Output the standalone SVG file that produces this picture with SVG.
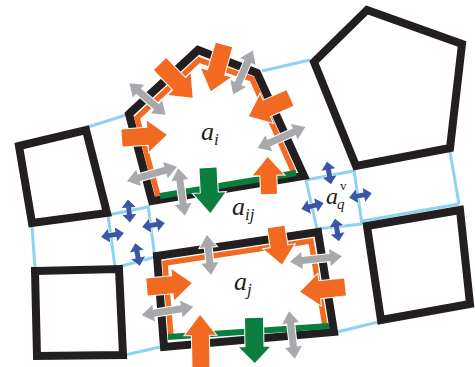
<svg xmlns="http://www.w3.org/2000/svg" width="475" height="367" viewBox="0 0 475 367">
<style>
.lb{stroke:#8dd3f0;stroke-width:3;fill:none}
.cell{stroke:#231f20;stroke-width:8;fill:none;stroke-linejoin:miter}
.ol{stroke:#f26a21;stroke-width:5.5;fill:none;stroke-linejoin:miter}
.gl{stroke:#0b7d3e;stroke-width:6;fill:none}
.oa{fill:#f26a21;stroke:#fff;stroke-width:2;paint-order:stroke}
.ga{fill:#0b7d3e;stroke:#fff;stroke-width:2;paint-order:stroke}
.gr{fill:#a7a9ac;stroke:#fff;stroke-width:2;paint-order:stroke}
.bl{fill:#3a56a5;stroke:#fff;stroke-width:1;paint-order:stroke}
.lbl{font-family:"Liberation Serif","Times New Roman",serif;font-style:italic;fill:#231f20}
</style>
<defs>
<path id="ar45" d="M0,-8.5H26V-15.5L45,0L26,15.5V8.5H0Z"/>
<path id="gr48" d="M-24,0L-12,-8.5V-3.5H12V-8.5L24,0L12,8.5V3.5H-12V8.5Z"/>
<path id="gr52" d="M-26,0L-14,-8.5V-3.5H14V-8.5L26,0L14,8.5V3.5H-14V8.5Z"/>
<path id="gr40" d="M-20,0L-8,-8.5V-3.5H8V-8.5L20,0L8,8.5V3.5H-8V8.5Z"/>
<path id="bl23" d="M-11.5,0L-3.5,-7V-2.5H3.5V-7L11.5,0L3.5,7V2.5H-3.5V7Z"/>
</defs>
<rect width="475" height="367" fill="#fff"/>
<g id="connectors">
<path class="lb" d="M88,127L126,115"/>
<path class="lb" d="M262,71L310,60"/>
<path class="lb" d="M306,180L353,171"/>
<path class="lb" d="M306,180L317,229"/>
<path class="lb" d="M317,229L362,224"/>
<path class="lb" d="M354,170L362,224"/>
<path class="lb" d="M450,152L459,204"/>
<path class="lb" d="M362,221L459,204"/>
<path class="lb" d="M337,332L378,322"/>
<path class="lb" d="M108,215L148,207"/>
<path class="lb" d="M148,205L155,258"/>
<path class="lb" d="M108,215L115,267"/>
<path class="lb" d="M118,267L155,257"/>
<path class="lb" d="M32,226L35,268"/>
<path class="lb" d="M125,355L160,347"/>
</g>
<g id="sq-tl"><polygon class="cell" points="19,146 86,130 107,213 32,223"/></g>
<g id="sq-bl"><polygon class="cell" points="35,271 119,269 123,355 37,356"/></g>
<g id="pent-tr"><polygon class="cell" points="367,10 462,44 450,148 356,166 314,62"/></g>
<g id="sq-br"><polygon class="cell" points="367,226 460,210 470,304 381,320"/></g>
<g id="cell-ai">
<polygon class="cell" points="129,114 198,50 257,73 304,176 152,201"/>
<path class="ol" d="M158,196L137,118L199,60L252,79L294,173"/>
<path class="gl" d="M160,196L296,173"/>
<path class="oa" transform="translate(160,64) rotate(46)" d="M0,-8.5H28V-15.5L47,0L28,15.5V8.5H0Z"/>
<path class="oa" transform="translate(224,45) rotate(106)" d="M0,-8.5H29V-15.5L48,0L29,15.5V8.5H0Z"/>
<use href="#ar45" class="oa" transform="translate(290,98) rotate(156)"/>
<use href="#ar45" class="oa" transform="translate(122,138) rotate(-4)"/>
<path class="oa" transform="translate(269,194) rotate(-92)" d="M0,-8H19V-15.5L37,0L19,15.5V8H0Z"/>
<path class="ga" transform="translate(208,168) rotate(87)" d="M0,-8.5H25V-16L45,0L25,16V8.5H0Z"/>
<use href="#gr48" class="gr" transform="translate(147.5,99) rotate(41)"/>
<use href="#gr48" class="gr" transform="translate(243,72.5) rotate(114)"/>
<use href="#gr52" class="gr" transform="translate(281.5,137.5) rotate(156)"/>
<use href="#gr52" class="gr" transform="translate(152,174) rotate(-16)"/>
<use href="#gr48" class="gr" transform="translate(181.5,192) rotate(82)"/>
<text class="lbl" x="201" y="140" font-size="26">a<tspan font-size="17" dy="5">i</tspan></text>
</g>
<g id="cell-aj">
<polygon class="cell" points="157,256 318,232 334,332 164,347"/>
<path class="ol" d="M171,337L165,263L311,241L325,326"/>
<path class="gl" d="M168,337L329,326"/>
<path class="oa" transform="translate(276,227) rotate(81)" d="M0,-8.5H20V-15.5L38,0L20,15.5V8.5H0Z"/>
<use href="#ar45" class="oa" transform="translate(345,287) rotate(174)"/>
<use href="#ar45" class="oa" transform="translate(147,287) rotate(-5)"/>
<path class="oa" transform="translate(201,369) rotate(-91)" d="M0,-8.5H34V-15.5L54,0L34,15.5V8.5H0Z"/>
<path class="ga" transform="translate(254,318) rotate(89)" d="M0,-9H29V-15.5L45,0L29,15.5V9H0Z"/>
<use href="#gr40" class="gr" transform="translate(209,255) rotate(84)"/>
<use href="#gr52" class="gr" transform="translate(316,259) rotate(174)"/>
<use href="#gr52" class="gr" transform="translate(167.5,311) rotate(-9)"/>
<use href="#gr48" class="gr" transform="translate(292,335) rotate(83)"/>
<text class="lbl" x="234" y="290" font-size="26">a<tspan font-size="17" dy="5">j</tspan></text>
</g>
<g id="cell-aij">
<text class="lbl" x="232" y="215" font-size="26">a<tspan font-size="17" dy="5">ij</tspan></text>
</g>
<g id="vertex-left">
<use href="#bl23" class="bl" transform="translate(129,211) rotate(85)"/>
<use href="#bl23" class="bl" transform="translate(112.5,235) rotate(-10)"/>
<use href="#bl23" class="bl" transform="translate(153.5,225) rotate(-10)"/>
<use href="#bl23" class="bl" transform="translate(137.5,254.5) rotate(79)"/>
</g>
<g id="vertex-aqv">
<use href="#bl23" class="bl" transform="translate(329,173) rotate(80)"/>
<use href="#bl23" class="bl" transform="translate(312.5,206) rotate(-15)"/>
<use href="#bl23" class="bl" transform="translate(360.5,195.5) rotate(-11)"/>
<use href="#bl23" class="bl" transform="translate(337,230) rotate(80)"/>
<text class="lbl" x="326" y="204" font-size="24">a</text>
<text x="340" y="190" font-size="13" font-family="'Liberation Serif','Times New Roman',serif" fill="#231f20">v</text>
<text class="lbl" x="337" y="209" font-size="15">q</text>
</g>
</svg>
